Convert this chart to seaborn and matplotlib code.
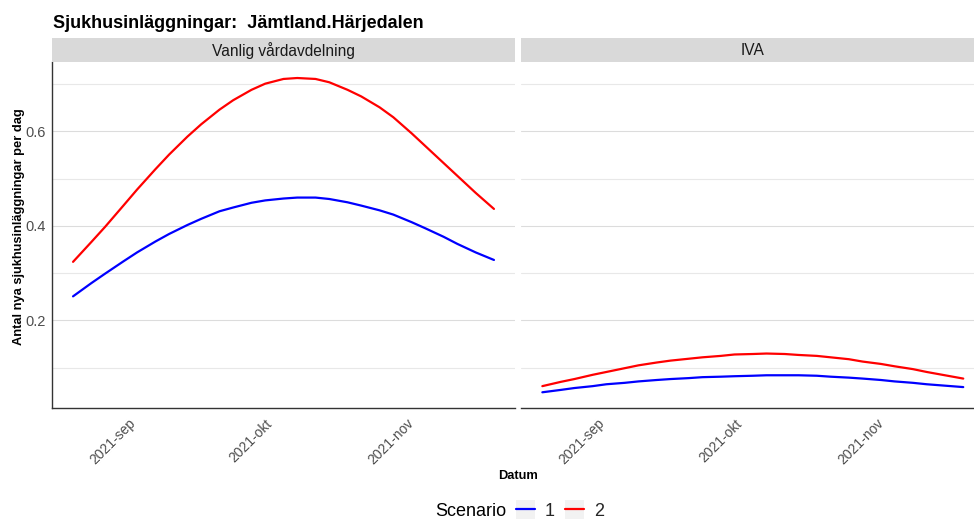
#!/usr/bin/env python3
"""Sjukhusinläggningar per dag, two care levels, two scenarios."""

import matplotlib
matplotlib.use("Agg")

import matplotlib.dates as mdates
import matplotlib.pyplot as plt
import pandas as pd
import seaborn as sns
from matplotlib.legend_handler import HandlerLine2D
from matplotlib.patches import Rectangle
from matplotlib.ticker import MultipleLocator

TITLE = "Sjukhusinläggningar:  Jämtland.Härjedalen"
PANELS = ["Vanlig vårdavdelning", "IVA"]
SCENARIOS = ["1", "2"]
COLORS = {"1": "blue", "2": "red"}

DATES = [
    "2021-08-20", "2021-08-24", "2021-08-27", "2021-08-31", "2021-09-03",
    "2021-09-07", "2021-09-10", "2021-09-14", "2021-09-17", "2021-09-21",
    "2021-09-24", "2021-09-28", "2021-10-01", "2021-10-05", "2021-10-08",
    "2021-10-12", "2021-10-15", "2021-10-19", "2021-10-22", "2021-10-26",
    "2021-10-29", "2021-11-02", "2021-11-05", "2021-11-09", "2021-11-12",
    "2021-11-16", "2021-11-20",
]
VANLIG_S1 = [0.251, 0.279, 0.299, 0.325, 0.344, 0.367, 0.383, 0.402, 0.415,
             0.431, 0.439, 0.449, 0.454, 0.458, 0.460, 0.460, 0.457, 0.450,
             0.443, 0.433, 0.424, 0.408, 0.395, 0.377, 0.362, 0.344, 0.328]
VANLIG_S2 = [0.324, 0.366, 0.398, 0.443, 0.477, 0.520, 0.551, 0.589, 0.615,
             0.646, 0.666, 0.688, 0.701, 0.711, 0.713, 0.711, 0.704, 0.688,
             0.674, 0.651, 0.630, 0.596, 0.569, 0.533, 0.506, 0.470, 0.436]
IVA_S1 = [0.048, 0.053, 0.057, 0.061, 0.065, 0.068, 0.071, 0.074, 0.076,
          0.078, 0.080, 0.081, 0.082, 0.083, 0.084, 0.084, 0.084, 0.083,
          0.081, 0.079, 0.077, 0.074, 0.071, 0.068, 0.065, 0.062, 0.059]
IVA_S2 = [0.061, 0.070, 0.076, 0.085, 0.091, 0.099, 0.105, 0.111, 0.115,
          0.119, 0.122, 0.125, 0.128, 0.129, 0.130, 0.129, 0.127, 0.125,
          0.122, 0.118, 0.113, 0.108, 0.103, 0.097, 0.091, 0.084, 0.077]

XTICKS = ["2021-09-01", "2021-10-01", "2021-11-01"]
XTICK_LABELS = ["2021-sep", "2021-okt", "2021-nov"]
YTICKS = [0.2, 0.4, 0.6]

W, H = 974, 520
TEXT_GRAY = "#4D4D4D"


class BoxedLine(HandlerLine2D):
    """legend key with a light grey square behind the line, like ggplot"""

    def create_artists(self, legend, orig_handle, xdescent, ydescent,
                       width, height, fontsize, trans):
        artists = super().create_artists(legend, orig_handle, xdescent, ydescent,
                                         width, height, fontsize, trans)
        side = width
        y0 = -ydescent + height / 2 - side / 2
        box = Rectangle((-xdescent, y0), side, side, facecolor="#F2F2F2",
                        edgecolor="none", transform=trans)
        return [box] + list(artists)


def build_frame() -> pd.DataFrame:
    series = {
        (PANELS[0], "1"): VANLIG_S1,
        (PANELS[0], "2"): VANLIG_S2,
        (PANELS[1], "1"): IVA_S1,
        (PANELS[1], "2"): IVA_S2,
    }
    rows = []
    for (panel, scen), values in series.items():
        for d, v in zip(DATES, values):
            rows.append({"panel": panel, "Scenario": scen, "Datum": pd.Timestamp(d), "value": v})
    return pd.DataFrame(rows)


def px_box(left, top, right, bottom):
    return [left / W, 1 - bottom / H, (right - left) / W, (bottom - top) / H]


def main() -> None:
    df = build_frame()

    sns.set_style("white")
    plt.rcParams["font.family"] = ["Liberation Sans", "DejaVu Sans"]

    fig = plt.figure(figsize=(W / 100, H / 100), dpi=100)
    fig.patch.set_facecolor("white")

    # ggplot style 5% expansion on shared scales
    x_min, x_max = df["Datum"].min(), df["Datum"].max()
    x_pad = (x_max - x_min) * 0.05
    y_min, y_max = df["value"].min(), df["value"].max()
    y_pad = (y_max - y_min) * 0.05

    panel_w = 463
    lefts = [52, 521.3]
    axes = []
    for i, panel in enumerate(PANELS):
        left = lefts[i]
        ax = fig.add_axes(px_box(left, 62.3, left + panel_w, 408))
        strip = fig.add_axes(px_box(left, 38, left + panel_w, 62.3))
        strip.set_facecolor("#D9D9D9")
        strip.set_xticks([])
        strip.set_yticks([])
        for sp in strip.spines.values():
            sp.set_visible(False)
        strip.text(0.5, 0.5, panel, ha="center", va="center", fontsize=11.2,
                   color="#1A1A1A", transform=strip.transAxes)

        data = df[df["panel"] == panel]
        sns.lineplot(data=data, x="Datum", y="value", hue="Scenario",
                     hue_order=SCENARIOS, palette=COLORS, linewidth=1.6,
                     ax=ax, legend=(i == 0))

        ax.set_xlim(x_min - x_pad, x_max + x_pad)
        ax.set_ylim(y_min - y_pad, y_max + y_pad)
        ax.set_xlabel("")
        ax.set_ylabel("")

        ax.yaxis.set_major_locator(MultipleLocator(0.2))
        ax.yaxis.set_minor_locator(MultipleLocator(0.1))
        ax.set_yticks(YTICKS)
        ax.grid(True, axis="y", which="major", color="#DCDCDC", linewidth=0.8)
        ax.grid(True, axis="y", which="minor", color="#E8E8E8", linewidth=0.8)
        ax.grid(False, axis="x")
        ax.set_axisbelow(True)

        ax.set_xticks([mdates.date2num(pd.Timestamp(t)) for t in XTICKS])
        ax.set_xticklabels(XTICK_LABELS, rotation=45, ha="right", va="top",
                           rotation_mode="anchor", fontsize=10, color=TEXT_GRAY)
        ax.tick_params(axis="x", which="major", length=3, width=0.8, color="#333333", pad=3)

        for name in ("top", "right"):
            ax.spines[name].set_visible(False)
        ax.spines["bottom"].set_color("#333333")
        ax.spines["bottom"].set_linewidth(1.0)
        if i == 0:
            ax.spines["left"].set_color("#333333")
            ax.spines["left"].set_linewidth(1.0)
            ax.tick_params(axis="y", which="major", length=3, width=0.8, color="#333333",
                           labelsize=10.5, labelcolor=TEXT_GRAY, pad=1.5)
            ax.tick_params(axis="y", which="minor", length=0)
        else:
            ax.spines["left"].set_visible(False)
            ax.tick_params(axis="y", which="both", length=0, labelleft=False)
        axes.append(ax)

    handles, labels = axes[0].get_legend_handles_labels()
    axes[0].get_legend().remove()

    fig.text(53 / W, 1 - 27.7 / H, TITLE, ha="left", va="baseline",
             fontsize=13, fontweight="bold", color="black")
    fig.text(19 / W, 1 - 227 / H, "Antal nya sjukhusinläggningar per dag",
             rotation=90, ha="center", va="center", fontsize=9.3,
             fontweight="bold", color="black")
    fig.text(518 / W, 1 - 476 / H, "Datum", ha="center", va="center",
             fontsize=9.3, fontweight="bold", color="black")

    fig.text(506 / W, 1 - 511 / H, "Scenario", ha="right", va="center",
             fontsize=13, color="black")
    fig.legend(handles, labels, loc="center left", bbox_to_anchor=(516 / W, 1 - 511 / H),
               ncol=2, frameon=False, fontsize=13, handlelength=1.05,
               handletextpad=0.55, columnspacing=0.55, borderpad=0, borderaxespad=0,
               handler_map={h: BoxedLine() for h in handles})

    fig.savefig("out.png", dpi=100)
    plt.close(fig)


if __name__ == "__main__":
    main()
